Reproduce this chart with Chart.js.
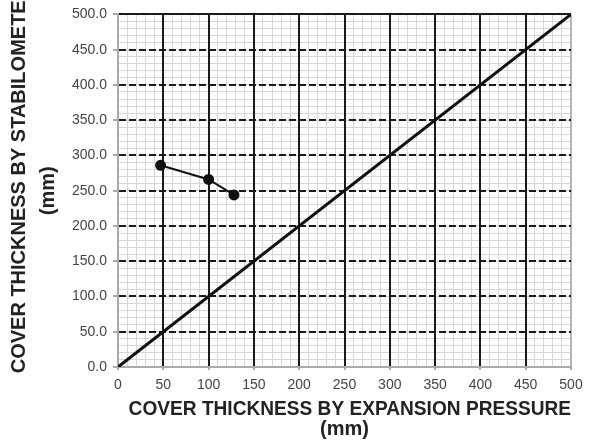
<!DOCTYPE html>
<html><head><meta charset="utf-8">
<script src="https://cdn.jsdelivr.net/npm/chart.js@4"></script>
<style>html,body{margin:0;padding:0;background:#fff}#w{width:596px;height:443px}</style>
</head><body><div id="w"><canvas id="c"></canvas></div>
<script>
const xTitle = ['  COVER THICKNESS BY EXPANSION PRESSURE', '(mm)'];
const yTitle = ['    COVER THICKNESS BY STABILOMETER', '(mm)'];
const measuredX = [47, 100, 128];
const measuredY = [286, 266, 244];
const equalityX = [0, 500];
const equalityY = [0, 500];
const axisMin = 0, axisMax = 500, majorStep = 50, minorStep = 10;

const toPts = (xs, ys) => xs.map((x, i) => ({x, y: ys[i]}));
const font = 'Liberation Sans, Arial, sans-serif';
const tv = c => (c.tick ? c.tick.value : null);

new Chart(document.getElementById('c'), {
  type: 'scatter',
  data: { datasets: [
    { data: toPts(equalityX, equalityY), showLine: true, borderColor: '#111', borderWidth: 3, pointRadius: 0 },
    { data: toPts(measuredX, measuredY), showLine: true, borderColor: '#111', borderWidth: 2, pointRadius: 4.5, pointBackgroundColor: '#111', pointBorderColor: '#111' }
  ]},
  options: {
    animation: false, responsive: true, maintainAspectRatio: false,
    layout: { padding: { top: 12, right: 25, left: 0, bottom: 0 } },
    plugins: { legend: { display: false }, tooltip: { enabled: false } },
    scales: {
      x: {
        type: 'linear', min: axisMin, max: axisMax,
        ticks: { stepSize: majorStep, color: '#444', font: { family: font, size: 14 }, padding: 7 },
        grid: { z: -1, color: c => (tv(c) === axisMax || tv(c) === axisMin) ? '#b5b5b5' : '#1a1a1a', lineWidth: 2, tickLength: 3, tickColor: '#aaa' },
        border: { display: true, color: '#aaa', width: 2, dash: [] },
        title: { display: true, text: xTitle, color: '#222', font: { family: font, size: 20, weight: 'bold', lineHeight: 1.0 }, padding: { top: 9 } },
        afterFit: s => { s.height = 76; }
      },
      y: {
        type: 'linear', min: axisMin, max: axisMax,
        ticks: { stepSize: majorStep, color: '#444', font: { family: font, size: 14 }, padding: 6, callback: v => Number(v).toFixed(1) },
        grid: { z: -1, color: c => tv(c) === axisMin ? '#b5b5b5' : '#1a1a1a', lineWidth: 2, tickLength: 5, tickColor: '#aaa' },
        border: { display: true, color: '#aaa', width: 2, dash: c => (tv(c) === axisMax || tv(c) === axisMin) ? [] : [7, 3] },
        title: { display: true, text: yTitle, color: '#222', font: { family: font, size: 20, weight: 'bold', lineHeight: 1.45 }, padding: { top: 5 } },
        afterFit: s => { s.width = 118; }
      },
      x2: {
        type: 'linear', position: 'bottom', min: axisMin, max: axisMax,
        ticks: { stepSize: minorStep, display: false },
        grid: { z: -2, color: '#d6d6d6', lineWidth: 1, drawTicks: false },
        border: { display: false },
        afterFit: s => { s.height = 0; }
      },
      y2: {
        type: 'linear', position: 'left', min: axisMin, max: axisMax,
        ticks: { stepSize: minorStep, display: false },
        grid: { z: -2, color: '#d6d6d6', lineWidth: 1, drawTicks: false },
        border: { display: false },
        afterFit: s => { s.width = 0; }
      }
    }
  }
});
</script></body></html>
